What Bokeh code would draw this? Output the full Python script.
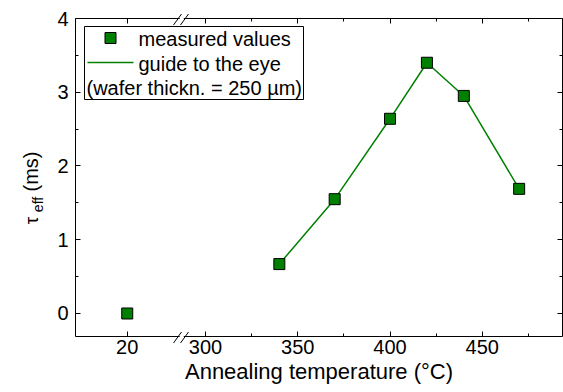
import math
from bokeh.plotting import figure
from bokeh.models import Range1d, LinearAxis, FixedTicker, Label, BoxAnnotation
from bokeh.embed import file_html
from bokeh.resources import INLINE

# ---------------- data ----------------
temps = [20, 340, 370, 400, 420, 440, 470]          # annealing temperature (°C)
tau_ms = [0.0, 0.67, 1.55, 2.64, 3.40, 2.95, 1.69]  # tau_eff (ms)
guide_temps = temps[1:]
guide_tau = tau_ms[1:]
x_major = [20, 300, 350, 400, 450]
x_minor = [325, 375, 425, 475]
y_major = [0, 1, 2, 3, 4]
y_minor = [0.5, 1.5, 2.5, 3.5]
legend_labels = ["measured values", "guide to the eye", "(wafer thickn. = 250 µm)"]
x_title = "Annealing temperature (°C)"

# broken axis: the low segment (20 °C) is shifted next to the 300+ segment
SHIFT = 237.55
def xv(t):
    return t if t >= 300 else t + SHIFT

# ---------------- layout ----------------
W, H = 563, 392
# visible axes box (pixels) and its data limits
PL, PR, PT, PB = 75, 562, 18, 336
X0, X1 = 229.5, 493.5
Y0, Y1 = -0.312, 4.0
SX = (PR - PL) / (X1 - X0)
SY = (PB - PT) / (Y1 - Y0)
XL, XR = X0 - PL / SX, X0 + (W - PL) / SX
YT, YB = Y1 + PT / SY, Y1 - (H - PT) / SY

def dx(px):
    return X0 + (px - PL) / SX

def dy(py):
    return Y1 - (py - PT) / SY

FONT = "Liberation Sans"
GREEN = "#008000"

p = figure(width=W, height=H, x_range=Range1d(XL, XR), y_range=Range1d(YB, YT),
           output_backend="svg", toolbar_location=None,
           x_axis_location=None, y_axis_location=None,
           min_border=0)
p.xgrid.visible = False
p.ygrid.visible = False
p.outline_line_color = None
p.background_fill_color = "white"
p.border_fill_color = "white"

xt = FixedTicker(ticks=[xv(t) for t in x_major], minor_ticks=x_minor)
yt = FixedTicker(ticks=y_major, minor_ticks=y_minor)

def make_axis(ticker, loc, bounds, labels=True):
    ax = LinearAxis(ticker=ticker, fixed_location=loc, bounds=bounds)
    ax.axis_line_color = "black"
    ax.axis_line_width = 1
    ax.major_tick_in = 5
    ax.major_tick_out = 0
    ax.minor_tick_in = 3
    ax.minor_tick_out = 0
    ax.major_tick_line_color = "black"
    ax.minor_tick_line_color = "black"
    if labels:
        ax.major_label_text_font = FONT
        ax.major_label_text_font_size = "20px"
        ax.major_label_text_color = "black"
    else:
        ax.major_label_text_font_size = "0px"
        ax.major_label_standoff = 0
    return ax

xa = make_axis(xt, Y0, (X0, X1))
xa.major_label_overrides = {xv(t): str(t) for t in x_major}
xa.major_label_standoff = 3
xa.axis_label = x_title
xa.axis_label_text_font = FONT
xa.axis_label_text_font_size = "22px"
xa.axis_label_text_font_style = "normal"
xa.axis_label_text_color = "black"
xa.axis_label_standoff = 2
p.add_layout(xa, "below")

ya = make_axis(yt, X0, (Y0, Y1))
ya.major_label_standoff = 7
p.add_layout(ya, "left")

top = make_axis(xt, Y1, (X0, X1), labels=False)
top.major_label_overrides = {xv(t): "" for t in x_major}
p.add_layout(top, "above")

right = make_axis(yt, X1, (Y0, Y1), labels=False)
right.major_label_overrides = {t: "" for t in y_major}
p.add_layout(right, "right")

# ---------------- data marks ----------------
p.line([xv(t) for t in guide_temps], guide_tau, line_color=GREEN, line_width=1.5)
p.scatter([xv(t) for t in temps], tau_ms, marker="square", size=11,
          fill_color=GREEN, line_color="black", line_width=1)

# ---------------- axis break marks (drawn over the axis lines) ----------------
C1, C2, HW, HH = 177, 184, 4, 5.5
for py in (PT + 1, PB + 1):
    p.patch([dx(C1 - HW + 1.5), dx(C2 - HW - 1.5), dx(C2 + HW - 1.5), dx(C1 + HW + 1.5)],
            [dy(py + HH), dy(py + HH), dy(py - HH), dy(py - HH)],
            fill_color="white", line_color=None, level="overlay")
    p.segment([dx(C1 - HW), dx(C2 - HW)], [dy(py + HH)] * 2,
              [dx(C1 + HW), dx(C2 + HW)], [dy(py - HH)] * 2,
              line_color="black", line_width=1, level="overlay")

# ---------------- legend ----------------
p.add_layout(BoxAnnotation(left=dx(84), right=dx(303), top=dy(26), bottom=dy(99),
                           fill_color="white", fill_alpha=1,
                           line_color="black", line_width=1, line_alpha=1,
                           level="underlay"))
p.scatter([dx(110)], [dy(37.5)], marker="square", size=11,
          fill_color=GREEN, line_color="black", line_width=1)
p.line([dx(87), dx(133)], [dy(62), dy(62)], line_color=GREEN, line_width=1.5)
for (px, py), txt in zip([(138, 38), (138, 63), (86, 87)], legend_labels):
    p.add_layout(Label(x=dx(px), y=dy(py), text=txt, text_font=FONT,
                       text_font_size="20px", text_color="black",
                       text_align="left", text_baseline="middle"))

# ---------------- y-axis title (tau_eff with subscript) ----------------
p.add_layout(Label(x=dx(31), y=dy(220), text="τ", text_font=FONT,
                   text_font_size="19px", angle=math.pi / 2, text_color="black",
                   text_align="center", text_baseline="middle"))
p.add_layout(Label(x=dx(37), y=dy(204), text="eff", text_font=FONT,
                   text_font_size="14px", angle=math.pi / 2, text_color="black",
                   text_align="center", text_baseline="middle"))
p.add_layout(Label(x=dx(30), y=dy(171), text="(ms)", text_font=FONT,
                   text_font_size="20px", angle=math.pi / 2, text_color="black",
                   text_align="center", text_baseline="middle"))

open("out.html", "w").write(file_html(p, INLINE))
